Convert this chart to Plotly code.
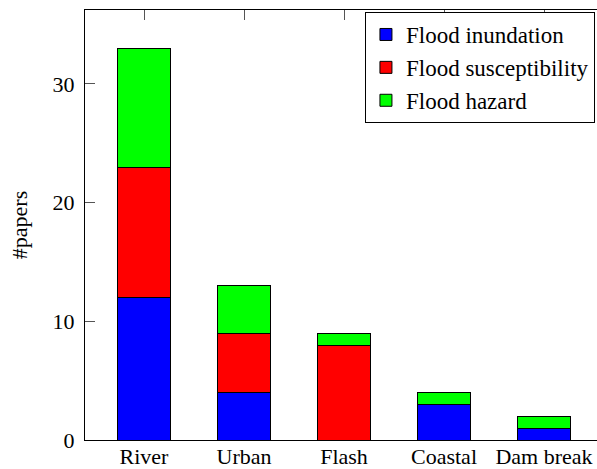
import plotly.graph_objects as go

categories = ["River", "Urban", "Flash", "Coastal", "Dam break"]
inundation = [12, 4, 0, 3, 1]
susceptibility = [11, 5, 8, 0, 0]
hazard = [10, 4, 1, 1, 1]
series_names = ["Flood inundation", "Flood susceptibility", "Flood hazard"]
colors = ["#0000FF", "#FF0000", "#00FF00"]

fig = go.Figure()
for name, vals, col in zip(series_names, [inundation, susceptibility, hazard], colors):
    fig.add_trace(go.Bar(
        x=list(range(len(categories))), y=vals, name=name,
        marker=dict(color=col, line=dict(color="black", width=1)),
        width=0.53,
    ))

font_serif = "Liberation Serif, Times New Roman, serif"
fig.update_layout(
    barmode="stack",
    width=597, height=469,
    margin=dict(l=85, r=0, t=10, b=29, autoexpand=False),
    paper_bgcolor="white", plot_bgcolor="white",
    font=dict(family=font_serif, size=22, color="black"),
    showlegend=True,
    legend=dict(
        x=0.996, y=0.9953, xanchor="right", yanchor="top",
        bordercolor="black", borderwidth=1, bgcolor="white",
        font=dict(size=23), traceorder="normal",
        tracegroupgap=0, itemwidth=30,
    ),
    xaxis=dict(
        range=[-0.59, 4.53], automargin=False,
        tickmode="array", tickvals=list(range(len(categories))), ticktext=categories,
        ticks="inside", ticklen=10, tickcolor="#555", tickwidth=1,
        showline=True, linecolor="black", linewidth=1, mirror="ticks",
        showgrid=False, zeroline=False, layer="below traces",
        tickfont=dict(size=22), ticklabelstandoff=-3,
    ),
    yaxis=dict(
        range=[0, 36.23], automargin=False,
        tickvals=[0, 10, 20, 30],
        ticks="inside", ticklen=10, tickcolor="#555", tickwidth=1,
        showline=True, linecolor="black", linewidth=1,
        showgrid=False, zeroline=False,
        title=dict(text="#papers", font=dict(size=22), standoff=18),
        tickfont=dict(size=22), ticklabelstandoff=5,
    ),
)

fig.write_html(
    "out.html",
    config={"displayModeBar": False},
    post_script="document.body.style.margin='0px';document.body.style.overflow='hidden';",
)
